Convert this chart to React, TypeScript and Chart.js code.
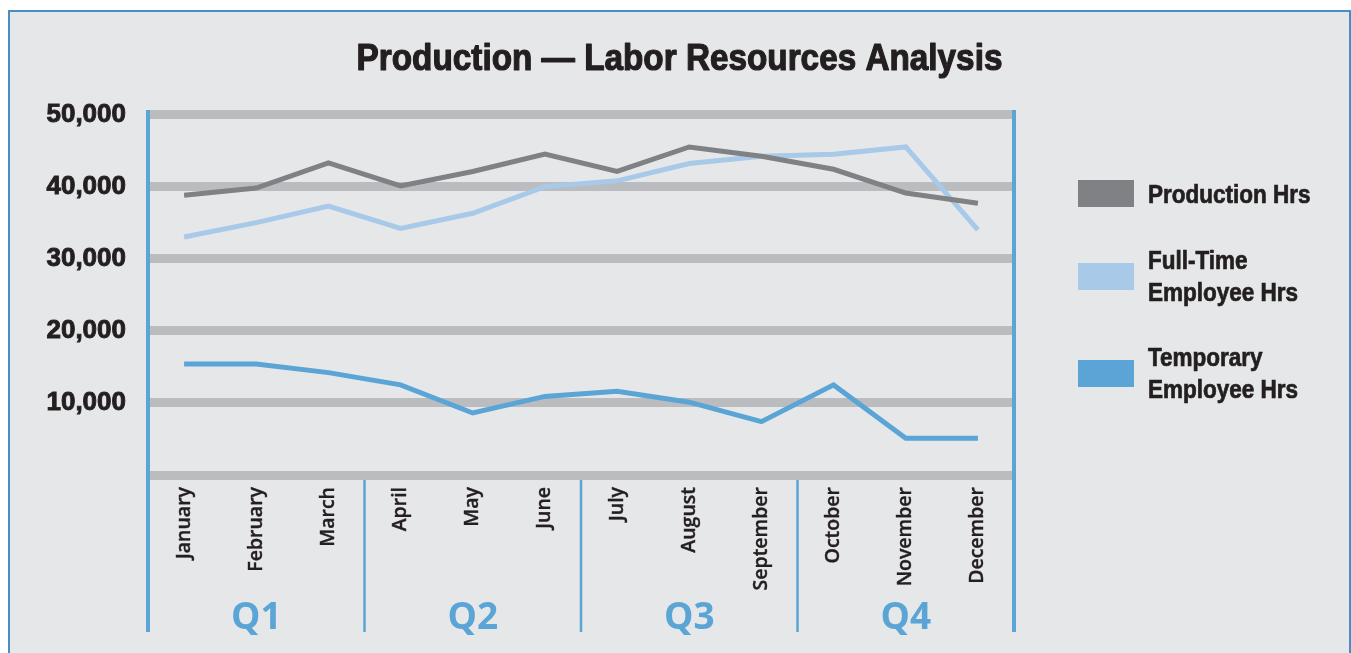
import React, { useEffect, useRef } from 'react';
import { Chart, registerables } from 'chart.js';

Chart.register(...registerables);

// ---- data ----
const months = [
  'January', 'February', 'March', 'April', 'May', 'June',
  'July', 'August', 'September', 'October', 'November', 'December',
];
const quarters = ['Q1', 'Q2', 'Q3', 'Q4'];
const productionHrs = [38800, 39800, 43300, 40100, 42100, 44500, 42100, 45500, 44200, 42400, 39100, 37700];
const fullTimeHrs = [33000, 35000, 37300, 34200, 36300, 40000, 40800, 43200, 44200, 44500, 45500, 34000];
const temporaryHrs = [15400, 15400, 14200, 12500, 8600, 10900, 11600, 10100, 7400, 12500, 5100, 5100];
const seriesNames = ['Production Hrs', 'Full-Time Employee Hrs', 'Temporary Employee Hrs'];
const legendLines = [['Production Hrs'], ['Full-Time', 'Employee Hrs'], ['Temporary', 'Employee Hrs']];
const yTickValues = [0, 10000, 20000, 30000, 40000, 50000];
const titleText = 'Production \u2014 Labor Resources Analysis';

// ---- styles ----
const seriesColors = ['#808184', '#a8c9e8', '#5aa5d6'];
const BG = '#e6e7e9';
const GRID = '#bbbcbf';
const AXIS_BLUE = '#5aa5d6';
const FRAME_BLUE = '#4a8ec8';
const TEXT = '#231f20';
const SANS = '"Liberation Sans", Arial, sans-serif';
const MONTH_FONT = '"Open Sans", "Noto Sans", sans-serif';
const CONDENSE = 0.9;

const CANVAS_W = 1339;
const CANVAS_H = 660;

// Title drawn as condensed bold text (no condensed face is installed)
const titlePlugin = {
  id: 'condensedTitle',
  afterDraw(chart: any) {
    const { ctx } = chart;
    ctx.save();
    ctx.font = `bold 37px ${SANS}`;
    ctx.fillStyle = TEXT;
    ctx.strokeStyle = TEXT;
    ctx.lineWidth = 1.2;
    ctx.lineJoin = 'round';
    ctx.textAlign = 'center';
    ctx.textBaseline = 'alphabetic';
    ctx.translate(chart.width / 2, 58);
    ctx.scale(CONDENSE, 1);
    ctx.fillText(titleText, 0, 0);
    ctx.strokeText(titleText, 0, 0);
    ctx.restore();
  },
};

const quarterPlugin = {
  id: 'quarterDividers',
  afterDraw(chart: any) {
    const { ctx, chartArea } = chart;
    const xs = chart.scales.x;
    const n = months.length;
    const per = n / quarters.length;
    const edge = (i: number) =>
      i <= 0 ? chartArea.left : i >= n ? chartArea.right : (xs.getPixelForValue(i - 1) + xs.getPixelForValue(i)) / 2;
    const bottom = chartArea.bottom + 157;
    ctx.save();
    ctx.strokeStyle = AXIS_BLUE;
    ctx.lineWidth = 4;
    [0, n].forEach((i) => {
      const x = edge(i);
      ctx.beginPath();
      ctx.moveTo(x, chartArea.top - 4.5);
      ctx.lineTo(x, bottom);
      ctx.stroke();
    });
    ctx.lineWidth = 2.5;
    for (let q = 1; q < quarters.length; q++) {
      const x = edge(q * per);
      ctx.beginPath();
      ctx.moveTo(x, chartArea.bottom + 5);
      ctx.lineTo(x, bottom);
      ctx.stroke();
    }
    ctx.fillStyle = AXIS_BLUE;
    ctx.font = `bold 37px ${MONTH_FONT}`;
    ctx.textAlign = 'center';
    ctx.textBaseline = 'middle';
    quarters.forEach((q, k) => {
      const cx = (edge(k * per) + edge((k + 1) * per)) / 2;
      ctx.fillText(q, cx, bottom - 14);
    });
    ctx.restore();
  },
};

export default function App() {
  const ref = useRef<HTMLCanvasElement>(null);

  useEffect(() => {
    const seriesData = [productionHrs, fullTimeHrs, temporaryHrs];
    const chart = new Chart(ref.current as HTMLCanvasElement, {
      type: 'line',
      data: {
        labels: months,
        datasets: seriesData.map((d, i) => ({
          label: seriesNames[i],
          data: d,
          borderColor: seriesColors[i],
          backgroundColor: seriesColors[i],
          borderWidth: 5,
          pointRadius: 0,
          pointHoverRadius: 0,
          tension: 0,
          fill: false,
          borderJoinStyle: 'miter' as const,
        })),
      },
      options: {
        responsive: false,
        animation: false,
        layout: { padding: { top: 102.5, left: 0, right: 0, bottom: 0 } },
        plugins: {
          legend: { display: false },
          tooltip: { enabled: false },
          title: { display: false },
        },
        scales: {
          x: {
            type: 'category',
            offset: true,
            grid: { display: false, offset: true },
            border: { display: false },
            ticks: {
              autoSkip: false,
              minRotation: 90,
              maxRotation: 90,
              padding: 4,
              color: TEXT,
              textStrokeColor: TEXT,
              textStrokeWidth: 0.4,
              font: { family: MONTH_FONT, size: 19.5, weight: 600 },
            },
            afterFit(scale: any) {
              scale.height = 197;
            },
          },
          y: {
            type: 'linear',
            position: 'left',
            min: 0,
            max: 50000,
            afterBuildTicks(scale: any) {
              scale.ticks = yTickValues.map((v) => ({ value: v }));
            },
            grid: { color: GRID, lineWidth: 9, drawTicks: false },
            border: { display: false },
            ticks: {
              padding: 22,
              color: TEXT,
              textStrokeColor: TEXT,
              textStrokeWidth: 0.9,
              font: { family: SANS, size: 26, weight: 'bold' },
              callback: (v: any) => (Number(v) === 0 ? '' : Number(v).toLocaleString('en-US')),
            },
            afterFit(scale: any) {
              scale.width = 138;
            },
          },
          legendSpace: {
            type: 'linear',
            position: 'right',
            display: true,
            grid: { display: false },
            border: { display: false },
            ticks: { display: false },
            afterFit(scale: any) {
              scale.width = 335;
            },
          },
        },
      },
      plugins: [quarterPlugin, titlePlugin],
    } as any);
    return () => chart.destroy();
  }, []);

  const legendCenters = [181.5, 264, 361];

  return (
    <div
      style={{
        position: 'fixed',
        left: 8,
        top: 10,
        width: 1343,
        height: 700,
        boxSizing: 'border-box',
        border: `2px solid ${FRAME_BLUE}`,
        background: BG,
        overflow: 'hidden',
      }}
    >
      <canvas
        ref={ref}
        width={CANVAS_W}
        height={CANVAS_H}
        style={{ position: 'absolute', left: 0, top: 0, width: CANVAS_W, height: CANVAS_H }}
      />
      {legendLines.map((lines, i) => (
        <div
          key={i}
          style={{
            position: 'absolute',
            left: 1068,
            top: legendCenters[i] - 32,
            height: 64,
            display: 'flex',
            alignItems: 'center',
          }}
        >
          <div style={{ width: 56, height: 27, background: seriesColors[i], flex: 'none' }} />
          <div
            style={{
              marginLeft: 14,
              fontFamily: SANS,
              fontWeight: 'bold',
              fontSize: 25,
              lineHeight: '32px',
              color: TEXT,
              whiteSpace: 'nowrap',
              WebkitTextStroke: `0.7px ${TEXT}`,
              transform: 'scaleX(0.9)',
              transformOrigin: 'left center',
            }}
          >
            {lines.map((l, j) => (
              <div key={j}>{l}</div>
            ))}
          </div>
        </div>
      ))}
    </div>
  );
}
